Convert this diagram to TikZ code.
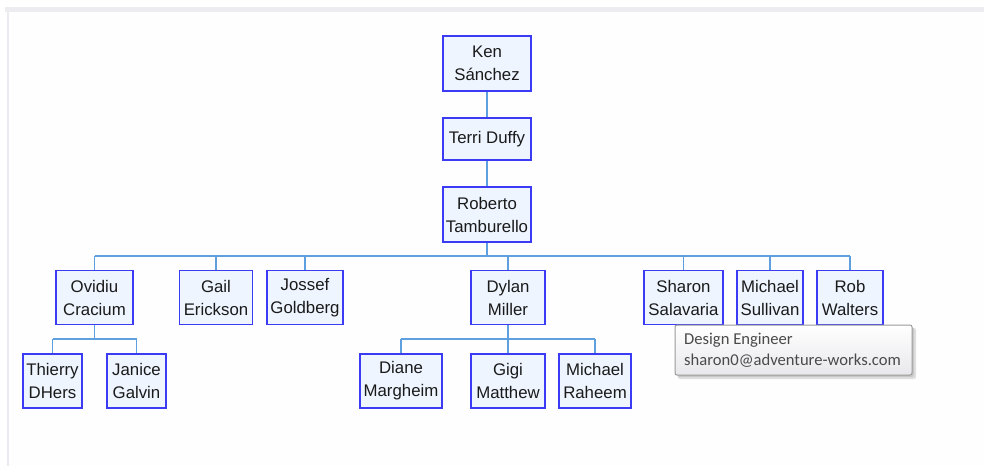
\documentclass[tikz,border=0pt]{standalone}
\usepackage{fontspec}
\setmainfont{Liberation Sans}
\newfontfamily\tipfont{Carlito}
\definecolor{boxblue}{HTML}{3B3BF5}
\definecolor{boxfill}{HTML}{EEF5FF}
\definecolor{linkblue}{HTML}{5E9FE0}
\definecolor{txt}{HTML}{1A1A1A}
\definecolor{tipborder}{HTML}{9A9A9A}
\definecolor{tiptext}{HTML}{4A4A4A}
\begin{document}
\begin{tikzpicture}[x=1pt,y=-1pt,
  person/.style={draw=boxblue, line width=1.6pt, fill=boxfill, inner sep=0pt, align=center,
     text=txt, font=\fontsize{16.8}{23}\selectfont},
  link/.style={draw=linkblue, line width=1.4pt}]
\useasboundingbox (0,0) rectangle (984,466);
\fill[white] (0,0) rectangle (984,466);
\fill[fill={rgb,255:red,254;green,254;blue,255}] (8,12) rectangle (984,466);
\fill[fill={rgb,255:red,236;green,236;blue,241}] (5,7) rectangle (984,12);
\fill[fill={rgb,255:red,234;green,234;blue,240}] (7,12) rectangle (9,466);

% level 0-2
\node[person, minimum width=88, minimum height=55] (ken) at (487,63.5) {Ken\\Sánchez};
\node[person, minimum width=88, minimum height=42] (terri) at (487,139) {Terri Duffy};
\node[person, minimum width=88, minimum height=55] (roberto) at (487,214.5) {Roberto\\Tamburello};

% level 3
\node[person, minimum width=77, minimum height=54] (ovidiu) at (94.5,297.5) {Ovidiu\\Cracium};
\node[person, minimum width=73, minimum height=54] (gail) at (216,297.5) {Gail\\Erickson};
\node[person, minimum width=76, minimum height=54] (jossef) at (305,297.5) {Jossef\\Goldberg};
\node[person, minimum width=74, minimum height=54] (dylan) at (508,297.5) {Dylan\\Miller};
\node[person, minimum width=79, minimum height=54] (sharon) at (683.5,297.5) {Sharon\\Salavaria};
\node[person, minimum width=66, minimum height=54] (sullivan) at (770,297.5) {Michael\\Sullivan};
\node[person, minimum width=66, minimum height=54] (rob) at (850,297.5) {Rob\\Walters};

% level 4
\node[person, minimum width=59, minimum height=54] (thierry) at (52.5,381) {Thierry\\DHers};
\node[person, minimum width=59, minimum height=54] (janice) at (136.5,381) {Janice\\Galvin};
\node[person, minimum width=82, minimum height=54] (diane) at (401,381) {Diane\\Margheim};
\node[person, minimum width=74, minimum height=54] (gigi) at (508,381) {Gigi\\Matthew};
\node[person, minimum width=72, minimum height=54] (raheem) at (595,381) {Michael\\Raheem};

% connectors
\coordinate (bus) at (0,256);
\coordinate (busA) at (0,339);
\draw[link] (ken) -- (terri);
\draw[link] (terri) -- (roberto);
\draw[link] (roberto.south) -- (roberto.south |- bus);
\draw[link] (ovidiu.north |- bus) -- (rob.north |- bus);
\foreach \n in {ovidiu,gail,jossef,dylan,sharon,sullivan,rob}
  \draw[link] (\n.north) -- (\n.north |- bus);
\draw[link] (ovidiu.south) -- (ovidiu.south |- busA);
\draw[link] (thierry.north |- busA) -- (janice.north |- busA);
\draw[link] (thierry.north) -- (thierry.north |- busA);
\draw[link] (janice.north) -- (janice.north |- busA);
\draw[link] (dylan.south) -- (dylan.south |- busA);
\draw[link] (diane.north |- busA) -- (raheem.north |- busA);
\foreach \n in {diane,gigi,raheem}
  \draw[link] (\n.north) -- (\n.north |- busA);

% tooltip
\fill[black, opacity=0.12, rounded corners=2pt] (678,328) rectangle (916,379);
\fill[black, opacity=0.10, rounded corners=2pt] (677,327) rectangle (914,377);
\shade[top color=white, bottom color={rgb,255:red,232;green,232;blue,236}, rounded corners=2pt,
  draw=tipborder, line width=1pt] (675,325) rectangle (912,375);
\node[anchor=west, inner sep=0pt, text=tiptext, font=\tipfont\fontsize{16.6}{21}\selectfont, align=left]
  (tip) at (684,350) {Design Engineer\\sharon0@adventure-works.com};
\end{tikzpicture}
\end{document}
